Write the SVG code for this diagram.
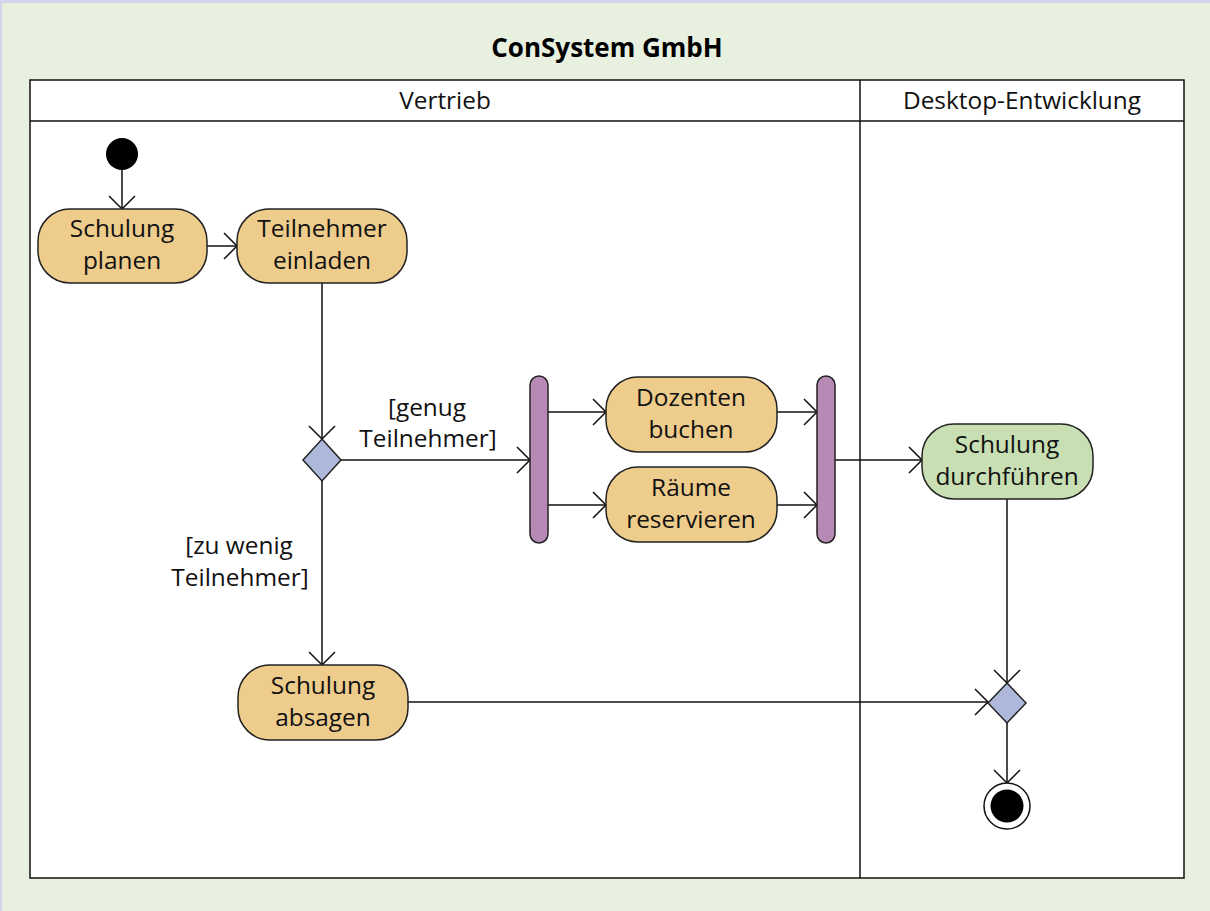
<svg xmlns="http://www.w3.org/2000/svg" width="1210" height="911" viewBox="0 0 1210 911">
  <style>
    .txt { font-family: "Open Sans", "Noto Sans", "Liberation Sans", sans-serif; font-size: 24.4px; fill: #111; text-anchor: middle; }
    .title { font-family: "Open Sans", "Noto Sans", "Liberation Sans", sans-serif; font-size: 26px; font-weight: bold; fill: #000; text-anchor: middle; }
    .action { fill: #EDCC8C; stroke: #222; stroke-width: 1.5; }
    .action2 { fill: #C8DFB4; stroke: #222; stroke-width: 1.5; }
    .diamond { fill: #AEB8DA; stroke: #222; stroke-width: 1.5; }
    .bar { fill: #B68AB5; stroke: #222; stroke-width: 1.5; }
    .edge { fill: none; stroke: #111; stroke-width: 1.5; marker-end: url(#arrow); }
    .lane { fill: #fff; stroke: #111; stroke-width: 1.5; }
  </style>
  <defs>
    <marker id="arrow" markerUnits="userSpaceOnUse" markerWidth="30" markerHeight="30" refX="0" refY="0" viewBox="-16 -15 18 30" orient="auto">
      <path d="M-13,-13 L0,0 L-13,13" fill="none" stroke="#111" stroke-width="1.5"/>
    </marker>
  </defs>

  <!-- background -->
  <rect x="0" y="0" width="1210" height="911" fill="#E8F0E0"/>
  <rect x="0" y="0" width="1210" height="3" fill="#D2D5EC"/>
  <rect x="0" y="0" width="2" height="911" fill="#D2D5EC"/>

  <text class="title" x="607" y="57">ConSystem GmbH</text>

  <!-- pool / lanes -->
  <g id="pool">
    <rect class="lane" x="30" y="80" width="1154" height="798"/>
    <line x1="30" y1="121" x2="1184" y2="121" stroke="#111" stroke-width="1.5"/>
    <line x1="860" y1="80" x2="860" y2="878" stroke="#111" stroke-width="1.5"/>
    <text class="txt" x="445" y="109">Vertrieb</text>
    <text class="txt" x="1022" y="109">Desktop-Entwicklung</text>
  </g>

  <!-- connectors -->
  <g id="connectors">
    <path class="edge" d="M122,169 L122,209"/>
    <path class="edge" d="M207,246 L237,246"/>
    <path class="edge" d="M322,283 L322,439"/>
    <path class="edge" d="M341,460 L530,460"/>
    <path class="edge" d="M322,481 L322,665"/>
    <path class="edge" d="M548,412 L606,412"/>
    <path class="edge" d="M548,505 L606,505"/>
    <path class="edge" d="M777,412 L817,412"/>
    <path class="edge" d="M777,505 L817,505"/>
    <path class="edge" d="M835,460 L922,460"/>
    <path class="edge" d="M1007,499 L1007,683"/>
    <path class="edge" d="M408,702 L988,702"/>
    <path class="edge" d="M1007,723 L1007,783"/>
    <text class="txt" x="427" y="416">[genug</text>
    <text class="txt" x="428" y="447">Teilnehmer]</text>
    <text class="txt" x="239" y="554">[zu wenig</text>
    <text class="txt" x="240" y="586">Teilnehmer]</text>
  </g>

  <!-- nodes -->
  <g id="start">
    <circle cx="122" cy="154" r="16" fill="#000"/>
  </g>
  <g id="schulung-planen">
    <rect class="action" x="38" y="209" width="169" height="74" rx="32"/>
    <text class="txt" x="122" y="237">Schulung</text>
    <text class="txt" x="122" y="269">planen</text>
  </g>
  <g id="teilnehmer-einladen">
    <rect class="action" x="237" y="209" width="170" height="74" rx="32"/>
    <text class="txt" x="322" y="237">Teilnehmer</text>
    <text class="txt" x="322" y="269">einladen</text>
  </g>
  <g id="decision">
    <polygon class="diamond" points="322,439 341,460 322,481 303,460"/>
  </g>
  <g id="fork">
    <rect class="bar" x="530" y="376" width="18" height="167" rx="9"/>
  </g>
  <g id="dozenten-buchen">
    <rect class="action" x="606" y="377" width="171" height="75" rx="32"/>
    <text class="txt" x="691" y="406">Dozenten</text>
    <text class="txt" x="691" y="438">buchen</text>
  </g>
  <g id="raeume-reservieren">
    <rect class="action" x="606" y="467" width="171" height="75" rx="32"/>
    <text class="txt" x="691" y="496">Räume</text>
    <text class="txt" x="691" y="528">reservieren</text>
  </g>
  <g id="join">
    <rect class="bar" x="817" y="376" width="18" height="167" rx="9"/>
  </g>
  <g id="schulung-durchfuehren">
    <rect class="action2" x="922" y="424" width="171" height="75" rx="32"/>
    <text class="txt" x="1007" y="453">Schulung</text>
    <text class="txt" x="1007" y="485">durchführen</text>
  </g>
  <g id="schulung-absagen">
    <rect class="action" x="238" y="665" width="170" height="75" rx="32"/>
    <text class="txt" x="323" y="694">Schulung</text>
    <text class="txt" x="323" y="726">absagen</text>
  </g>
  <g id="merge">
    <polygon class="diamond" points="1007,683 1026,703 1007,723 988,703"/>
  </g>
  <g id="end">
    <circle cx="1007" cy="806" r="23" fill="#fff" stroke="#111" stroke-width="1.5"/>
    <circle cx="1007" cy="806" r="16.5" fill="#000"/>
  </g>
</svg>
